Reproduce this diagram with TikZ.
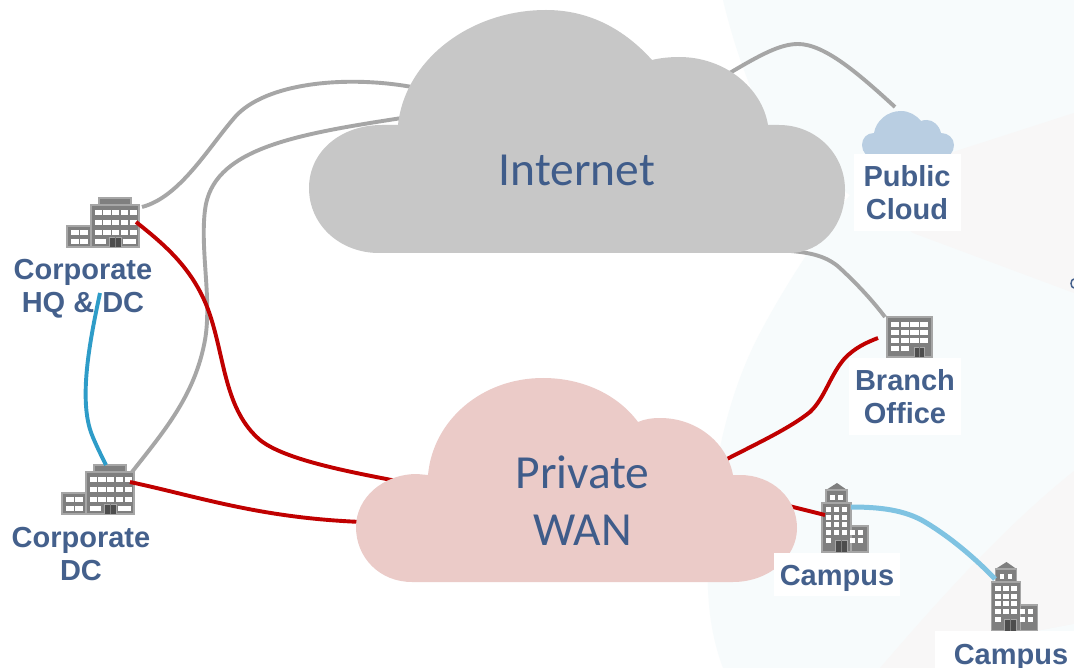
\documentclass[tikz,border=0pt]{standalone}
\usepackage{fontspec}
\setmainfont{Liberation Sans}
\newfontfamily\cloudfont{Carlito}
\definecolor{labelblue}{HTML}{44608C}
\definecolor{cloudtext}{HTML}{3F5C8A}
\definecolor{paleblue}{HTML}{F7FBFC}
\definecolor{palewarm}{HTML}{F8F7F7}
\definecolor{bldggray}{HTML}{7F7F7F}
\definecolor{bldgedge}{HTML}{A6A6A6}
\definecolor{dooredge}{HTML}{4D4D4D}
\definecolor{wirered}{HTML}{C00000}
\definecolor{wiregray}{HTML}{A6A6A6}
\definecolor{wireblue}{HTML}{2E9CC8}
\definecolor{wiresky}{HTML}{7FC3E2}
\definecolor{netcloud}{HTML}{C7C7C7}
\definecolor{wancloud}{HTML}{EBCBC8}
\definecolor{pubcloud}{HTML}{B9CEE2}
\tikzset{
  wire/.style={line width=3.9pt},
  grayline/.style={wire,draw=wiregray},
  redline/.style={wire,draw=wirered},
  sitelabel/.style={font=\fontsize{29pt}{33pt}\selectfont\bfseries,text=labelblue,align=center,inner sep=0pt},
  labelbox/.style={sitelabel,fill=white},
  cloudlabel/.style={font=\cloudfont\fontsize{47.5pt}{57pt}\selectfont,text=cloudtext,align=center,inner sep=0pt},
  bldgbody/.style={fill=bldggray,draw=bldgedge,line width=1.2pt},
  bldgdoor/.style={fill=dooredge,draw=bldgedge,line width=0.8pt},
  hqbldg/.pic={
    \draw[bldgbody] (8pt,42pt) rectangle (40pt,49pt);
    \draw[bldgbody] (-24pt,0pt) rectangle (0pt,21pt);
    \draw[bldgbody] (0pt,0pt) rectangle (48pt,42pt);
    \foreach \wx in {3.7,12.4,21.1,29.8,38.5}
      \foreach \wy in {12,22,32}
        \fill[white] (\wx pt,\wy pt) rectangle ++(7.3pt,5pt);
    \fill[white] (3.7pt,3pt) rectangle (15pt,8pt);
    \fill[white] (32pt,3pt) rectangle (45pt,8pt);
    \foreach \wx in {-19.7,-11}
      \foreach \wy in {3,12}
        \fill[white] (\wx pt,\wy pt) rectangle ++(7.7pt,5pt);
    \draw[bldgdoor] (18pt,0pt) rectangle (30pt,10pt);
    \draw[bldggray,line width=0.8pt] (24pt,0pt) -- (24pt,10pt);
  },
  branchbldg/.pic={
    \draw[bldgbody] (0pt,0pt) rectangle (45pt,40pt);
    \foreach \wx in {4,13.7,23.4,33.1}
      \foreach \wy in {14,22,30}
        \fill[white] (\wx pt,\wy pt) rectangle ++(8.3pt,5pt);
    \foreach \wx in {4,13.7}
      \fill[white] (\wx pt,6pt) rectangle ++(8.3pt,5pt);
    \draw[bldgdoor] (27pt,0pt) rectangle (37pt,10pt);
    \draw[bldggray,line width=0.8pt] (32pt,0pt) -- (32pt,10pt);
  },
  campusbldg/.pic={
    \fill[bldggray] (4pt,62pt) -- (15pt,69pt) -- (25pt,62pt) -- cycle;
    \draw[bldgbody] (4pt,49pt) rectangle (25pt,62pt);
    \draw[bldgbody] (29pt,0pt) rectangle (46pt,26pt);
    \draw[bldgbody] (0pt,0pt) rectangle (29pt,49pt);
    \foreach \wx in {3.7,11.7,19.7}
      \foreach \wy in {17,25,32,40}
        \fill[white] (\wx pt,\wy pt) rectangle ++(5.3pt,5pt);
    \fill[white] (3.7pt,9pt) rectangle ++(5.3pt,5pt);
    \foreach \wx in {28,36}
      \foreach \wy in {9,17}
        \fill[white] (\wx pt,\wy pt) rectangle ++(5.3pt,5pt);
    \foreach \wx in {8,16}
      \fill[white] (\wx pt,52pt) rectangle ++(4.5pt,5pt);
    \draw[bldgdoor] (13pt,0pt) rectangle (25pt,12pt);
    \draw[bldggray,line width=0.8pt] (19pt,0pt) -- (19pt,12pt);
  }
}
\begin{document}
\begin{tikzpicture}
\useasboundingbox (0pt,0pt) rectangle (1074pt,-668pt);
% background
\fill[white] (0pt,0pt) rectangle (1074pt,-668pt);
\fill[paleblue] (723pt,0pt) -- (1074pt,0pt) -- (1074pt,-668pt) -- (723pt,-668pt) .. controls (705pt,-620pt) and (705pt,-570pt) .. (712pt,-500pt) .. controls (718pt,-440pt) and (735pt,-380pt) .. (760pt,-333pt) .. controls (785pt,-285pt) and (825pt,-225pt) .. (850pt,-195pt) .. controls (810pt,-170pt) and (785pt,-150pt) .. (770pt,-130pt) .. controls (750pt,-90pt) and (735pt,-50pt) .. (723pt,0pt) -- cycle;
\fill[palewarm] (1074pt,-113pt) -- (953pt,-152pt) -- (862pt,-190pt) -- (913pt,-233pt) -- (1074pt,-293pt) -- cycle;
\fill[palewarm] (1074pt,-471pt) .. controls (1000pt,-530pt) and (930pt,-610pt) .. (880pt,-668pt) -- (1074pt,-668pt) -- cycle;
\fill[paleblue] (1074pt,-624pt) -- (1037pt,-631pt) -- (1074pt,-668pt) -- cycle;
% buildings
\pic (hq) at (91pt,-247pt) {hqbldg};
\pic (dc) at (86pt,-514pt) {hqbldg};
\pic (branch) at (887pt,-357pt) {branchbldg};
\pic (campusa) at (822pt,-552pt) {campusbldg};
\pic (campusb) at (991.5pt,-631pt) {campusbldg};
% ends of the wires
\coordinate (hqgray) at (142pt,-207pt);
\coordinate (hqred) at (136pt,-222pt);
\coordinate (hqblue) at (100pt,-293pt);
\coordinate (dcgray) at (132pt,-472pt);
\coordinate (dcred) at (130pt,-482pt);
\coordinate (dcblue) at (106pt,-465pt);
\coordinate (netupper) at (412pt,-87pt);
\coordinate (netlower) at (402pt,-118pt);
\coordinate (netpub) at (728pt,-74pt);
\coordinate (netbranch) at (791pt,-251pt);
\coordinate (pubtop) at (895pt,-107pt);
\coordinate (branchgray) at (885pt,-317pt);
\coordinate (branchred) at (878pt,-338pt);
\coordinate (wanhq) at (402pt,-482pt);
\coordinate (wandc) at (362pt,-522pt);
\coordinate (wanbranch) at (725pt,-460pt);
\coordinate (wancampus) at (785pt,-505pt);
\coordinate (campred) at (825pt,-515pt);
\coordinate (campsky) at (851pt,-507pt);
\coordinate (campbsky) at (995pt,-579pt);
% gray wires
\draw[grayline] (hqgray) .. controls (180pt,-197pt) and (208pt,-148pt) .. (235pt,-117pt) .. controls (265pt,-83pt) and (345pt,-75pt) .. (netupper);
\draw[grayline] (dcgray) .. controls (165pt,-430pt) and (195pt,-395pt) .. (205pt,-340pt) .. controls (212pt,-300pt) and (200pt,-250pt) .. (205pt,-210pt) .. controls (212pt,-150pt) and (290pt,-135pt) .. (netlower);
\draw[grayline] (netpub) .. controls (760pt,-55pt) and (780pt,-44pt) .. (798pt,-44pt) .. controls (825pt,-44pt) and (860pt,-75pt) .. (pubtop);
\draw[grayline] (netbranch) .. controls (815pt,-253pt) and (830pt,-258pt) .. (842pt,-270pt) .. controls (858pt,-285pt) and (872pt,-300pt) .. (branchgray);
% red wires
\draw[redline] (hqred) .. controls (165pt,-245pt) and (195pt,-270pt) .. (210pt,-315pt) .. controls (225pt,-360pt) and (225pt,-410pt) .. (260pt,-440pt) .. controls (285pt,-460pt) and (350pt,-472pt) .. (wanhq);
\draw[redline] (dcred) .. controls (200pt,-497pt) and (260pt,-518pt) .. (wandc);
\draw[redline] (wanbranch) .. controls (760pt,-442pt) and (790pt,-428pt) .. (810pt,-412pt) .. controls (825pt,-398pt) and (830pt,-375pt) .. (845pt,-358pt) .. controls (855pt,-348pt) and (865pt,-343pt) .. (branchred);
\draw[redline] (wancampus) -- (campred);
% clouds
\fill[netcloud] (379pt,-253pt) -- (789pt,-253pt) .. controls (822pt,-253pt) and (845pt,-225pt) .. (845pt,-190pt) .. controls (845pt,-153pt) and (815pt,-125pt) .. (779pt,-125pt) -- (768pt,-125pt) .. controls (762pt,-88pt) and (725pt,-57pt) .. (679pt,-57pt) .. controls (670pt,-57pt) and (660pt,-58pt) .. (652pt,-60pt) .. controls (625pt,-30pt) and (590pt,-10pt) .. (546pt,-10pt) .. controls (470pt,-10pt) and (405pt,-60pt) .. (398pt,-125pt) -- (382pt,-125pt) .. controls (340pt,-125pt) and (309pt,-152pt) .. (309pt,-188pt) .. controls (309pt,-225pt) and (340pt,-253pt) .. (379pt,-253pt) -- cycle;
\fill[wancloud] (412pt,-582pt) -- (733pt,-582pt) .. controls (768pt,-582pt) and (797pt,-558pt) .. (797pt,-528pt) .. controls (797pt,-498pt) and (772pt,-475pt) .. (740pt,-475pt) -- (733pt,-475pt) .. controls (727pt,-443pt) and (697pt,-418pt) .. (660pt,-418pt) .. controls (652pt,-418pt) and (645pt,-419pt) .. (638pt,-422pt) .. controls (618pt,-395pt) and (583pt,-378pt) .. (543pt,-378pt) .. controls (482pt,-378pt) and (433pt,-420pt) .. (428pt,-475pt) -- (417pt,-474pt) .. controls (383pt,-474pt) and (356pt,-498pt) .. (356pt,-527pt) .. controls (356pt,-558pt) and (380pt,-582pt) .. (412pt,-582pt) -- cycle;
\fill[pubcloud] (875pt,-158pt) -- (942pt,-158pt) .. controls (949pt,-158pt) and (954pt,-152pt) .. (954pt,-145pt) .. controls (954pt,-138pt) and (948pt,-133pt) .. (941pt,-133pt) .. controls (939pt,-125pt) and (933pt,-120pt) .. (927pt,-120pt) .. controls (925pt,-120pt) and (923pt,-120pt) .. (921pt,-121pt) .. controls (916pt,-115pt) and (909pt,-111pt) .. (901pt,-111pt) .. controls (887pt,-111pt) and (876pt,-121pt) .. (874pt,-133pt) .. controls (867pt,-133pt) and (862pt,-138pt) .. (862pt,-145pt) .. controls (862pt,-152pt) and (867pt,-158pt) .. (875pt,-158pt) -- cycle;
\node[cloudlabel] (internet) at (577pt,-170pt) {Internet};
\node[cloudlabel] (wan) at (582.5pt,-501pt) {Private\\WAN};
% labels
\node[sitelabel] (hqlabel) at (83pt,-289pt) {Corporate\\HQ \& DC};
\node[sitelabel] (dclabel) at (81pt,-554pt) {Corporate\\DC};
\node[labelbox,minimum width=107pt,minimum height=77pt] (publabel) at (907pt,-192.5pt) {Public\\Cloud};
\node[labelbox,minimum width=112pt,minimum height=77pt] (branchlabel) at (905pt,-396.5pt) {Branch\\Office};
\node[labelbox,minimum width=126pt,minimum height=43pt,text height=21pt,text depth=0pt] (campalabel) at (837pt,-574.5pt) {Campus};
\node[labelbox,minimum width=139pt,minimum height=37pt,text height=29pt,text depth=0pt] (campblabel) at (1004.5pt,-649.5pt) {\hspace{13pt}Campus};
% blue wires
\draw[wire,draw=wireblue] (hqblue) .. controls (90pt,-340pt) and (78pt,-400pt) .. (92pt,-435pt) .. controls (96pt,-445pt) and (101pt,-455pt) .. (dcblue);
\draw[line width=5pt,draw=wiresky] (campsky) .. controls (880pt,-507pt) and (905pt,-510pt) .. (925pt,-522pt) .. controls (950pt,-537pt) and (975pt,-558pt) .. (campbsky);
\draw[labelblue,line width=1.5pt] (1074pt,-279pt) arc (90:270:3pt and 4.5pt);
\end{tikzpicture}
\end{document}
